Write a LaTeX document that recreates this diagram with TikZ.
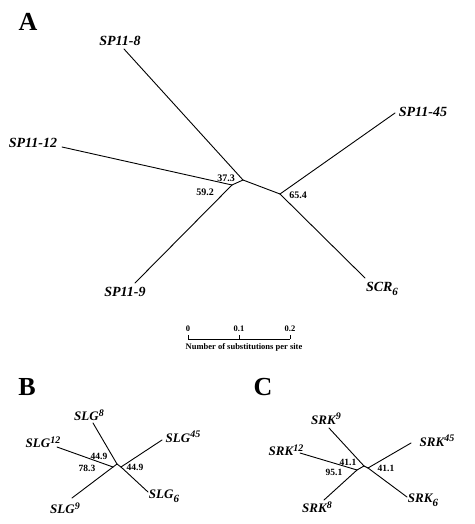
\documentclass[tikz,border=0pt]{standalone}
\usepackage{fontspec}
\setmainfont{Liberation Serif}
\newcommand{\myup}[1]{\raisebox{4.5pt}{\fontsize{10}{10}\selectfont #1}}
\newcommand{\mydown}[1]{\raisebox{-3.5pt}{\fontsize{11}{11}\selectfont #1}}
\begin{document}
\begin{tikzpicture}[x=1pt,y=-1pt,
  br/.style={line width=0.9pt, line cap=round, line join=round},
  lab/.style={font=\fontsize{14}{14}\selectfont\bfseries\itshape, inner sep=0pt},
  slab/.style={font=\fontsize{13}{13}\selectfont\bfseries\itshape, inner sep=0pt},
  num/.style={font=\fontsize{10}{10}\selectfont\bfseries, inner sep=0pt},
  snum/.style={font=\fontsize{9.5}{9.5}\selectfont\bfseries, inner sep=0pt},
  scl/.style={font=\fontsize{8.5}{8.5}\selectfont\bfseries, inner sep=0pt},
  panel/.style={font=\fontsize{26}{26}\selectfont\bfseries, inner sep=0pt}]
\useasboundingbox (0,0) rectangle (474,524);
\fill[white] (0,0) rectangle (474,524);

% ---------- Panel A ----------
\node[panel] (pA) at (28,22) {A};
\coordinate (aN0) at (232,185);
\coordinate (aN1) at (243,180);
\coordinate (aN2) at (280,194);
\coordinate (a8) at (124,49);
\coordinate (a12) at (62,147);
\coordinate (a9) at (135,283);
\coordinate (a45) at (395,113);
\coordinate (a6) at (365,278);
\draw[br] (a8) -- (aN1);
\draw[br] (a12) -- (aN0);
\draw[br] (a9) -- (aN0);
\draw[br] (aN0) -- (aN1);
\draw[br] (aN1) -- (aN2);
\draw[br] (aN2) -- (a45);
\draw[br] (aN2) -- (a6);
\node[lab] (lA8) at (120,41) {SP11-8};
\node[lab] (lA12) at (33,143) {SP11-12};
\node[lab] (lA45) at (423,112) {SP11-45};
\node[lab] (lA9) at (125,292) {SP11-9};
\node[lab] (lA6) at (382,289) {SCR\mydown{6}};
\node[num] (nA1) at (226,178) {37.3};
\node[num] (nA0) at (205,192) {59.2};
\node[num] (nA2) at (298,195) {65.4};

% ---------- scale bar ----------
\coordinate (s0) at (188,339);
\coordinate (s1) at (239,339);
\coordinate (s2) at (290,339);
\coordinate (t0) at (188,335);
\coordinate (t1) at (239,335);
\coordinate (t2) at (290,335);
\draw[line width=0.8pt] (s0) -- (s2);
\draw[line width=0.8pt] (s0) -- (t0);
\draw[line width=0.8pt] (s1) -- (t1);
\draw[line width=0.8pt] (s2) -- (t2);
\node[scl] (z0) at (188,329) {0};
\node[scl] (z1) at (239,329) {0.1};
\node[scl] (z2) at (290,329) {0.2};
\node[scl] (zt) at (244,347) {Number of substitutions per site};

% ---------- Panel B ----------
\node[panel] (pB) at (27,387) {B};
\coordinate (bN0) at (113,467);
\coordinate (bN1) at (117,464);
\coordinate (bN2) at (121,467);
\coordinate (b8) at (93,423);
\coordinate (b12) at (57,447);
\coordinate (b9) at (72,498);
\coordinate (b45) at (162,440);
\coordinate (b6) at (148,492);
\draw[br] (b8) -- (bN1);
\draw[br] (b12) -- (bN0);
\draw[br] (b9) -- (bN0);
\draw[br] (bN0) -- (bN1);
\draw[br] (bN1) -- (bN2);
\draw[br] (bN2) -- (b45);
\draw[br] (bN2) -- (b6);
\node[slab] (lB8) at (89,415) {SLG\myup{8}};
\node[slab] (lB12) at (43,442) {SLG\myup{12}};
\node[slab] (lB45) at (183,437) {SLG\myup{45}};
\node[slab] (lB6) at (164,496) {SLG\mydown{6}};
\node[slab] (lB9) at (65,508) {SLG\myup{9}};
\node[snum] (nB1) at (99,456) {44.9};
\node[snum] (nB0) at (87,468) {78.3};
\node[snum] (nB2) at (135,467) {44.9};

% ---------- Panel C ----------
\node[panel] (pC) at (263,387) {C};
\coordinate (cN0) at (357,470);
\coordinate (cN1) at (364,466);
\coordinate (cN2) at (368,468);
\coordinate (c9) at (329,428);
\coordinate (c12) at (300,453);
\coordinate (c8) at (324,500);
\coordinate (c45) at (411,443);
\coordinate (c6) at (407,497);
\draw[br] (c9) -- (cN1);
\draw[br] (c12) -- (cN0);
\draw[br] (c8) -- (cN0);
\draw[br] (cN0) -- (cN1);
\draw[br] (cN1) -- (cN2);
\draw[br] (cN2) -- (c45);
\draw[br] (cN2) -- (c6);
\node[slab] (lC9) at (326,419) {SRK\myup{9}};
\node[slab] (lC12) at (286,450) {SRK\myup{12}};
\node[slab] (lC45) at (437,441) {SRK\myup{45}};
\node[slab] (lC6) at (423,500) {SRK\mydown{6}};
\node[slab] (lC8) at (317,507) {SRK\myup{8}};
\node[snum] (nC1) at (348,462) {41.1};
\node[snum] (nC0) at (334,472) {95.1};
\node[snum] (nC2) at (386,468) {41.1};
\end{tikzpicture}
\end{document}
